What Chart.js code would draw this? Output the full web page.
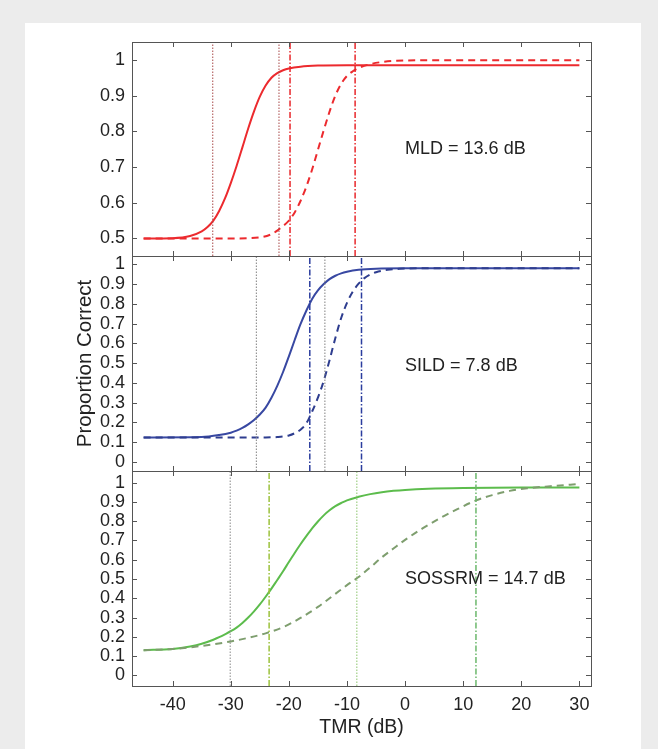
<!DOCTYPE html>
<html><head><meta charset="utf-8">
<script src="https://cdn.jsdelivr.net/npm/chart.js@4.4.0/dist/chart.umd.min.js"></script>
<style>
html,body{margin:0;padding:0;background:#ececec;}
#wrap{position:relative;width:658px;height:749px;overflow:hidden;background:#ececec;}
#panel{position:absolute;left:25px;top:23px;width:616px;height:726px;background:#fff;}
canvas{position:absolute;left:0;}
</style></head><body>
<div id="wrap">
<div id="panel"></div>
<canvas id="c1" width="658" height="280" style="top:0px;width:658px;height:280px"></canvas>
<canvas id="c2" width="658" height="280" style="top:220px;width:658px;height:280px"></canvas>
<canvas id="c3" width="658" height="329" style="top:420px;width:658px;height:329px"></canvas>
</div>
<script>
// ---------- data ----------
const xTicks = [-40, -30, -20, -10, 0, 10, 20, 30];
const yTicksTop = [0.5, 0.6, 0.7, 0.8, 0.9, 1];
const yTicksFull = [0, 0.1, 0.2, 0.3, 0.4, 0.5, 0.6, 0.7, 0.8, 0.9, 1];

// MLD panel (red)
const mldSolidX = [-45, -40, -37, -35, -34, -33, -32, -31, -30, -29, -28, -27, -26, -25, -24, -23, -22, -21, -20, -18, -15, -10, 0, 10, 20, 30];
const mldSolidY = [0.500, 0.501, 0.507, 0.520, 0.532, 0.550, 0.577, 0.612, 0.655, 0.703, 0.755, 0.808, 0.856, 0.897, 0.928, 0.950, 0.963, 0.971, 0.976, 0.981, 0.984, 0.985, 0.985, 0.985, 0.985, 0.985];
const mldDashX = [-45, -35, -30, -25, -23, -22, -21, -20, -19, -18, -17, -16, -15, -14, -13, -12, -11, -10, -9, -8, -6, -4, -2, 5, 15, 30];
const mldDashY = [0.500, 0.500, 0.500, 0.503, 0.512, 0.522, 0.535, 0.550, 0.573, 0.605, 0.645, 0.693, 0.748, 0.803, 0.855, 0.900, 0.933, 0.955, 0.968, 0.977, 0.988, 0.994, 0.997, 0.999, 0.999, 0.999];
const mldSolidMarks = [-33.1, -21.7];
const mldDashMarks = [-19.8, -8.6];

// SILD panel (blue)
const sildSolidX = [-45, -35, -32, -30, -29, -28, -27, -26, -25, -24, -23, -22, -21, -20, -19, -18, -17, -16, -15, -14, -13, -12, -11, -10, -8, -5, 0, 10, 20, 30];
const sildSolidY = [0.124, 0.126, 0.136, 0.148, 0.158, 0.172, 0.190, 0.212, 0.240, 0.275, 0.325, 0.385, 0.455, 0.534, 0.617, 0.697, 0.765, 0.825, 0.868, 0.900, 0.925, 0.942, 0.954, 0.962, 0.972, 0.978, 0.980, 0.980, 0.980, 0.980];
const sildDashX = [-45, -30, -24, -22, -20, -19, -18, -17, -16, -15, -14, -13, -12, -11, -10, -9, -8, -7, -6, -5, -3, -1, 5, 15, 30];
const sildDashY = [0.124, 0.124, 0.124, 0.126, 0.134, 0.145, 0.163, 0.195, 0.255, 0.325, 0.410, 0.515, 0.627, 0.728, 0.805, 0.862, 0.902, 0.930, 0.948, 0.960, 0.972, 0.977, 0.980, 0.980, 0.980];
const sildSolidMarks = [-25.6, -13.8];
const sildDashMarks = [-16.4, -7.5];

// SOSSRM panel (green)
const sosSolidX = [-45, -40, -37, -35, -33, -32, -31, -30, -29, -28, -27, -26, -25, -24, -23, -22, -21, -20, -19, -18, -17, -16, -15, -14, -13, -12, -11, -10, -8, -6, -4, -2, 0, 4, 10, 20, 30];
const sosSolidY = [0.131, 0.137, 0.150, 0.164, 0.185, 0.198, 0.213, 0.229, 0.248, 0.272, 0.300, 0.332, 0.368, 0.408, 0.450, 0.495, 0.540, 0.588, 0.635, 0.680, 0.722, 0.762, 0.798, 0.830, 0.856, 0.878, 0.894, 0.908, 0.926, 0.940, 0.950, 0.957, 0.962, 0.968, 0.972, 0.974, 0.974];
const sosDashX = [-45, -40, -35, -30, -27, -24, -21, -18, -15, -12, -10, -8, -6, -4, -2, 0, 3, 6, 9, 12, 15, 18, 21, 25, 30];
const sosDashY = [0.131, 0.137, 0.153, 0.176, 0.195, 0.218, 0.250, 0.298, 0.355, 0.423, 0.468, 0.510, 0.560, 0.612, 0.658, 0.703, 0.762, 0.815, 0.862, 0.905, 0.935, 0.957, 0.970, 0.981, 0.993];
const sosSolidMarks = [-30.1, -8.3];
const sosDashMarks = [-23.4, 12.2];

const annoTexts = ['MLD = 13.6 dB', 'SILD = 7.8 dB', 'SOSSRM = 14.7 dB'];
const annoX = [0, 0, 0];
const annoY = [0.75, 0.485, 0.5];

// ---------- styling / build ----------
const FONT = "'Liberation Sans', Arial, Helvetica, sans-serif";
const TXT = '#222222';
const X_MIN = -47, X_MAX = 32;

function pts(xs, ys){ return xs.map((x,i)=>({x:x, y:ys[i]})); }
function curve(xs, ys, color, dash){
  return {data: pts(xs, ys), borderColor: color, borderWidth: 2, pointRadius: 0,
    cubicInterpolationMode: 'monotone', borderDash: dash || [], fill:false};
}
function vline(v, yMin, yMax, color, dash, w){
  return {data: [{x:v, y:yMin}, {x:v, y:yMax}], borderColor: color, borderWidth: w || 1,
    pointRadius: 0, borderDash: dash, fill:false};
}
const DOT = [1.5, 1.5];
const DASHDOT = [6, 2, 1.5, 2];

const boxPlugin = {
  id: 'box',
  afterDatasetsDraw(chart){
    const ctx = chart.ctx, a = chart.chartArea;
    const xs = chart.scales.x, ys = chart.scales.y;
    const o = chart.options.plugins.box;
    ctx.save();
    ctx.strokeStyle = '#555';
    ctx.lineWidth = 1;
    ctx.beginPath();
    xTicks.forEach(v=>{
      const p = Math.round(xs.getPixelForValue(v)) + 0.5;
      ctx.moveTo(p, a.bottom); ctx.lineTo(p, a.bottom - 5);
      ctx.moveTo(p, a.top); ctx.lineTo(p, a.top + 5);
    });
    o.yTicks.forEach(v=>{
      const p = Math.round(ys.getPixelForValue(v)) + 0.5;
      ctx.moveTo(a.left, p); ctx.lineTo(a.left + 5, p);
      ctx.moveTo(a.right, p); ctx.lineTo(a.right - 5, p);
    });
    ctx.stroke();
    ctx.strokeRect(Math.round(a.left) + 0.5, Math.round(a.top) + 0.5,
      Math.round(a.right - a.left), Math.round(a.bottom - a.top));
    ctx.fillStyle = TXT;
    ctx.font = '18px ' + FONT;
    ctx.textAlign = 'left';
    ctx.textBaseline = 'middle';
    ctx.fillText(o.text, xs.getPixelForValue(o.tx), ys.getPixelForValue(o.ty));
    ctx.restore();
  }
};

function makeChart(id, datasets, yMin, yMax, yTicks, pad, idx, isBottom, hasTitle){
  return new Chart(document.getElementById(id), {
    type: 'line',
    data: {datasets: datasets},
    plugins: [boxPlugin],
    options: {
      responsive: false, animation: false,
      layout: {padding: pad},
      plugins: {
        legend: {display:false}, tooltip: {enabled:false},
        box: {yTicks: yTicks, text: annoTexts[idx], tx: annoX[idx], ty: annoY[idx]}
      },
      scales: {
        x: {
          type: 'linear', min: X_MIN, max: X_MAX,
          afterBuildTicks: s => { s.ticks = xTicks.map(v=>({value:v})); },
          afterFit: s => { if (isBottom) s.height = 63; },
          grid: {display:false, drawTicks:false}, border: {display:false},
          ticks: {display: isBottom, autoSkip: false, maxRotation: 0, color: TXT, padding: 8,
            font: {family: FONT, size: 18}},
          title: {display: isBottom, text: 'TMR (dB)', color: TXT, padding: {top:0, bottom:10},
            font: {family: FONT, size: 19.5}}
        },
        y: {
          type: 'linear', min: yMin, max: yMax,
          afterBuildTicks: s => { s.ticks = yTicks.map(v=>({value:v})); },
          afterFit: s => { s.width = 59; },
          grid: {display:false, drawTicks:false}, border: {display:false},
          ticks: {autoSkip: false, color: TXT, padding: 7, font: {family: FONT, size: 18},
            callback: v => String(v)},
          title: {display: hasTitle, text: 'Proportion Correct', color: TXT, padding: 0,
            font: {family: FONT, size: 20.5}}
        }
      }
    }
  });
}

// top panel
const T_MIN = 0.451, T_MAX = 1.05;
makeChart('c1', [
  vline(mldSolidMarks[0], T_MIN, T_MAX, '#a84848', DOT),
  vline(mldSolidMarks[1], T_MIN, T_MAX, '#a84848', DOT),
  vline(mldDashMarks[0], T_MIN, T_MAX, '#e8282c', DASHDOT, 1.5),
  vline(mldDashMarks[1], T_MIN, T_MAX, '#e8282c', DASHDOT, 1.5),
  curve(mldDashX, mldDashY, '#ec2a2e', [7, 5]),
  curve(mldSolidX, mldSolidY, '#ec2a2e')
], T_MIN, T_MAX, yTicksTop, {left:73, right:67, top:42, bottom:24}, 0, false, false);

// middle panel
const M_MIN = -0.046, M_MAX = 1.042;
makeChart('c2', [
  vline(sildSolidMarks[0], M_MIN, M_MAX, '#808080', DOT),
  vline(sildSolidMarks[1], M_MIN, M_MAX, '#808080', DOT),
  vline(sildDashMarks[0], M_MIN, M_MAX, '#2b3d9e', DASHDOT, 1.5),
  vline(sildDashMarks[1], M_MIN, M_MAX, '#2b3d9e', DASHDOT, 1.5),
  curve(sildDashX, sildDashY, '#2e3d8f', [7, 5]),
  curve(sildSolidX, sildSolidY, '#3848a2')
], M_MIN, M_MAX, yTicksFull, {left:73, right:67, top:36, bottom:29}, 1, false, true);

// bottom panel
const B_MIN = -0.055, B_MAX = 1.06;
makeChart('c3', [
  vline(sosSolidMarks[0], B_MIN, B_MAX, '#8a8a8a', DOT),
  vline(sosSolidMarks[1], B_MIN, B_MAX, '#8cc46c', DOT),
  vline(sosDashMarks[0], B_MIN, B_MAX, '#9cc23c', DASHDOT, 1.5),
  vline(sosDashMarks[1], B_MIN, B_MAX, '#6cb86c', DASHDOT, 1.5),
  curve(sosDashX, sosDashY, '#7e9e6e', [7, 5]),
  curve(sosSolidX, sosSolidY, '#5cbc4c')
], B_MIN, B_MAX, yTicksFull, {left:73, right:67, top:51, bottom:0}, 2, true, false);
</script>
</body></html>
